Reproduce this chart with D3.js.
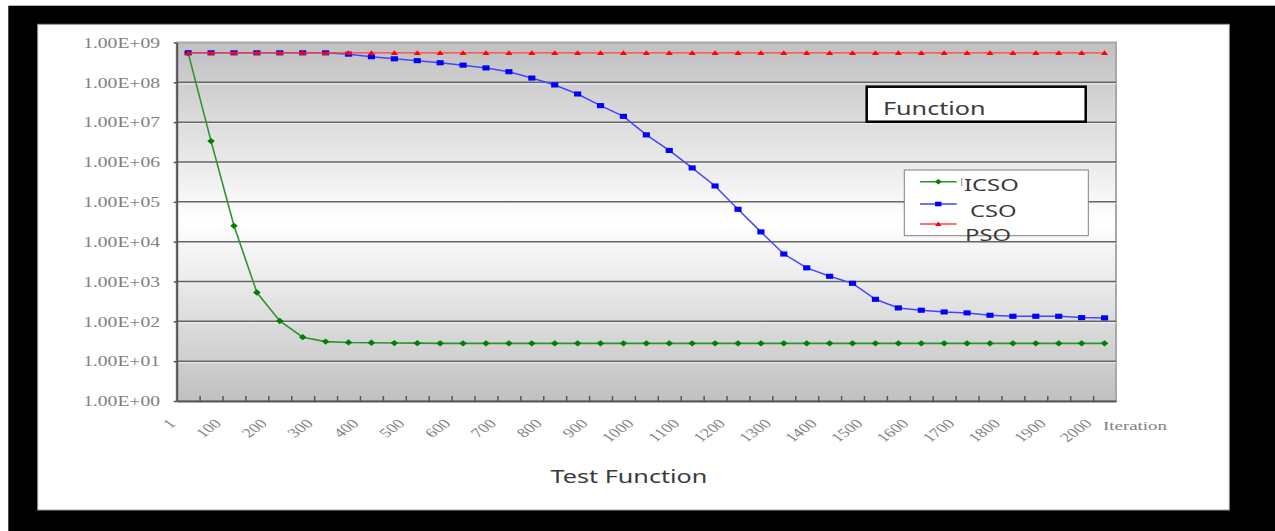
<!DOCTYPE html>
<html>
<head>
<meta charset="utf-8">
<script src="https://d3js.org/d3.v7.min.js"></script>
<style>
    body { margin: 0; background: #fff; }
    svg text { font-family: "Noto Sans", "DejaVu Sans", sans-serif; }
    .serif { font-family: "Liberation Serif", "DejaVu Serif", serif !important; fill: #7f7f7f; }
</style>
</head>
<body>
<script>

    // values (log scale), one point every 50 iterations
    var iterations = [1, 50, 100, 150, 200, 250, 300, 350, 400, 450, 500, 550, 600, 650, 700, 750,
        800, 850, 900, 950, 1000, 1050, 1100, 1150, 1200, 1250, 1300, 1350, 1400, 1450, 1500,
        1550, 1600, 1650, 1700, 1750, 1800, 1850, 1900, 1950, 2000];

    var icso = [5.5e8, 3.35e6, 2.5e4, 530, 102, 40, 31, 29.5, 29, 28.5, 28.3, 28, 28, 28, 28, 28,
        28, 28, 28, 28, 28, 28, 28, 28, 28, 28, 28, 28, 28, 28, 28,
        28, 28, 28, 28, 28, 28, 28, 28, 28, 28];

    var cso = [5.5e8, 5.5e8, 5.5e8, 5.5e8, 5.5e8, 5.5e8, 5.5e8, 5.1e8, 4.4e8, 3.9e8, 3.5e8, 3.1e8,
        2.7e8, 2.3e8, 1.85e8, 1.28e8, 8.6e7, 5.1e7, 2.6e7, 1.4e7, 4.8e6, 1.95e6, 7.1e5, 2.5e5,
        6.5e4, 1.76e4, 4.9e3, 2.2e3, 1.35e3, 900, 357, 217, 190, 172, 163, 142, 134, 134, 134,
        124, 122];

    var pso = [5.5e8, 5.5e8, 5.5e8, 5.5e8, 5.5e8, 5.5e8, 5.5e8, 5.5e8, 5.5e8, 5.5e8, 5.5e8,
        5.5e8, 5.5e8, 5.5e8, 5.5e8, 5.5e8, 5.5e8, 5.5e8, 5.5e8, 5.5e8, 5.5e8, 5.5e8, 5.5e8,
        5.5e8, 5.5e8, 5.5e8, 5.5e8, 5.5e8, 5.5e8, 5.5e8, 5.5e8, 5.5e8, 5.5e8, 5.5e8, 5.5e8,
        5.5e8, 5.5e8, 5.5e8, 5.5e8, 5.5e8, 5.5e8];

    var yTicks = [1, 10, 100, 1e3, 1e4, 1e5, 1e6, 1e7, 1e8, 1e9];

    var seriesNames = ["ICSO", "CSO", "PSO"];

    // the original picture is stretched sideways, so text and markers get scaled in x
    var SX = 1.4;
    var plot = {left: 176.7, right: 1116, top: 42.5, bottom: 401};

    // custom marker shapes (drawn before the x stretch)
    var diamond = {draw: function (p, s) {
        var r = Math.sqrt(s) / 2;
        p.moveTo(0, -r * 1.15); p.lineTo(r, 0); p.lineTo(0, r * 1.15); p.lineTo(-r, 0); p.closePath();
    }};
    var square = {draw: function (p, s) {
        var r = Math.sqrt(s) / 2;
        p.rect(-r, -r, 2 * r, 2 * r);
    }};
    var triangle = {draw: function (p, s) {
        var r = Math.sqrt(s) / 2;
        p.moveTo(0, -r * 1.1); p.lineTo(r * 1.05, r * 0.9); p.lineTo(-r * 1.05, r * 0.9); p.closePath();
    }};

    var series = [
        {name: seriesNames[0], values: icso, line: "#2f932f", fill: "#008000", symbol: diamond, size: 30, width: 1.6},
        {name: seriesNames[1], values: cso, line: "#4545ff", fill: "#0000ff", symbol: square, size: 26, width: 1.5},
        {name: seriesNames[2], values: pso, line: "#ff4040", fill: "#ff0000", symbol: triangle, size: 24, width: 1.3}
    ];

    var svg = d3.select("body").append("svg")
        .attr("width", 1275)
        .attr("height", 531);

    // black frame with the white chart sheet on it
    svg.append("rect").attr("x", 8.3).attr("y", 5.7).attr("width", 1275).attr("height", 531).attr("fill", "#000");
    svg.append("rect").attr("x", 37.7).attr("y", 24.3).attr("width", 1191.6).attr("height", 485.7)
        .attr("fill", "#fff").attr("stroke", "#9a9a9a").attr("stroke-width", 1);

    var defs = svg.append("defs");
    var grad = defs.append("linearGradient").attr("id", "plotBg")
        .attr("x1", 0).attr("y1", 0).attr("x2", 0).attr("y2", 1);
    grad.append("stop").attr("offset", "0%").attr("stop-color", "#c0c0c0");
    grad.append("stop").attr("offset", "50%").attr("stop-color", "#ffffff");
    grad.append("stop").attr("offset", "100%").attr("stop-color", "#c0c0c0");

    // scales
    var x = d3.scaleBand()
        .domain(iterations)
        .range([plot.left, plot.right]);
    var cx = function (d) { return x(d) + x.bandwidth() / 2; };

    var xEdge = d3.scaleLinear()
        .domain([0, iterations.length])
        .range([plot.left, plot.right]);

    var y = d3.scaleLog()
        .domain([1, 1e9])
        .range([plot.bottom, plot.top]);

    // plot area
    svg.append("rect")
        .attr("x", plot.left).attr("y", plot.top)
        .attr("width", plot.right - plot.left).attr("height", plot.bottom - plot.top)
        .attr("fill", "url(#plotBg)")
        .attr("stroke", "#a8a8a8").attr("stroke-width", 2);

    // gridlines with a light edge under them
    var grid = svg.append("g");
    grid.selectAll("line.hi")
        .data(yTicks.slice(1, -1))
        .enter().append("line")
        .attr("class", "hi")
        .attr("x1", plot.left).attr("x2", plot.right)
        .attr("y1", function (d) { return y(d) + 1.6; })
        .attr("y2", function (d) { return y(d) + 1.6; })
        .attr("stroke", "#f4f4f4").attr("stroke-width", 1).attr("opacity", 0.8);
    grid.selectAll("line.gl")
        .data(yTicks.slice(1, -1))
        .enter().append("line")
        .attr("class", "gl")
        .attr("x1", plot.left).attr("x2", plot.right)
        .attr("y1", function (d) { return y(d); })
        .attr("y2", function (d) { return y(d); })
        .attr("stroke", "#666").attr("stroke-width", 1.5);

    // y axis
    var yAxis = svg.append("g")
        .attr("transform", "translate(" + plot.left + ",0)")
        .call(d3.axisLeft(y).tickValues(yTicks).tickSize(3).tickSizeOuter(0).tickFormat(""));
    yAxis.select(".domain").attr("stroke", "#555").attr("stroke-width", 2);
    yAxis.selectAll(".tick line").attr("stroke", "#555").attr("stroke-width", 1.5);

    svg.append("g").selectAll("text")
        .data(yTicks)
        .enter().append("text")
        .attr("class", "serif")
        .attr("transform", function (d) { return "translate(160," + y(d) + ") scale(" + SX + ",1)"; })
        .attr("dy", "0.38em")
        .attr("text-anchor", "end")
        .attr("font-size", "14px")
        .text(function (d) { return "1.00E+" + String(Math.round(Math.log10(d))).padStart(2, "0"); });

    // x axis, ticks sit between categories and point up
    var xAxis = svg.append("g")
        .attr("transform", "translate(0," + plot.bottom + ")")
        .call(d3.axisBottom(xEdge).tickValues(d3.range(1, iterations.length)).tickSize(-5).tickSizeOuter(0).tickFormat(""));
    xAxis.select(".domain").attr("stroke", "#555").attr("stroke-width", 2);
    xAxis.selectAll(".tick line").attr("stroke", "#555").attr("stroke-width", 1.5);

    // slanted labels on every other category: 45 degree turn, then the sideways stretch
    var c45 = Math.SQRT1_2;
    svg.append("g").selectAll("text")
        .data(iterations.filter(function (d, i) { return i % 2 === 0; }))
        .enter().append("text")
        .attr("class", "serif")
        .attr("transform", function (d) {
            return "matrix(" + (SX * c45) + "," + (-c45) + "," + (SX * c45) + "," + c45 + "," +
                (cx(d) - 11.5) + ",424.4)";
        })
        .attr("text-anchor", "end")
        .attr("font-size", "13px")
        .text(function (d) { return d; });

    svg.append("text")
        .attr("class", "serif")
        .attr("transform", "translate(1103,430) scale(" + SX + ",1)")
        .attr("font-size", "13.5px")
        .text("Iteration");

    // lines, then markers (ICSO under CSO under PSO)
    var line = d3.line()
        .x(function (d, i) { return cx(iterations[i]); })
        .y(function (d) { return y(d); });

    series.forEach(function (s) {
        var g = svg.append("g");
        g.append("path")
            .datum(s.values)
            .attr("d", line)
            .attr("fill", "none")
            .attr("stroke", s.line)
            .attr("stroke-width", s.width);
        g.selectAll("path.pt")
            .data(s.values)
            .enter().append("path")
            .attr("class", "pt")
            .attr("d", d3.symbol().type(s.symbol).size(s.size))
            .attr("transform", function (d, i) {
                return "translate(" + cx(iterations[i]) + "," + y(d) + ") scale(" + SX + ",1)";
            })
            .attr("fill", s.fill);
    });

    // "Function" box
    svg.append("rect")
        .attr("x", 866.7).attr("y", 86.7).attr("width", 219).attr("height", 35)
        .attr("fill", "#fff").attr("stroke", "#000").attr("stroke-width", 2.5);
    svg.append("text")
        .attr("transform", "translate(883,115) scale(" + SX + ",1)")
        .attr("font-size", "18px")
        .attr("fill", "#3a3a3a")
        .text("Function");

    // legend
    var legend = svg.append("g");
    legend.append("rect")
        .attr("x", 904.3).attr("y", 170).attr("width", 184).attr("height", 65.7)
        .attr("fill", "#fff").attr("stroke", "#808080").attr("stroke-width", 1);

    var legendLineY = [181.7, 204, 224];
    var legendText = [{x: 964, y: 190.7}, {x: 970, y: 216.7}, {x: 965, y: 240.7}];

    series.forEach(function (s, i) {
        legend.append("line")
            .attr("x1", 920).attr("x2", 956.7)
            .attr("y1", legendLineY[i]).attr("y2", legendLineY[i])
            .attr("stroke", s.line).attr("stroke-width", s.width);
        legend.append("path")
            .attr("d", d3.symbol().type(s.symbol).size(s.size * 0.8)())
            .attr("transform", "translate(938.3," + legendLineY[i] + ") scale(" + SX + ",1)")
            .attr("fill", s.fill);
        if (i === 0) {
            legend.append("line")
                .attr("x1", 961.7).attr("x2", 961.7).attr("y1", 178).attr("y2", 186)
                .attr("stroke", "#9a9a9a").attr("stroke-width", 1.2);
        }
        legend.append("text")
            .attr("transform", "translate(" + legendText[i].x + "," + legendText[i].y + ") scale(" + SX + ",1)")
            .attr("font-size", "17px")
            .attr("fill", "#3a3a3a")
            .text(s.name);
    });

    // bottom title
    svg.append("text")
        .attr("transform", "translate(629,483) scale(" + SX + ",1)")
        .attr("text-anchor", "middle")
        .attr("font-size", "18px")
        .attr("fill", "#3a3a3a")
        .text("Test Function");

</script>
</body>
</html>
